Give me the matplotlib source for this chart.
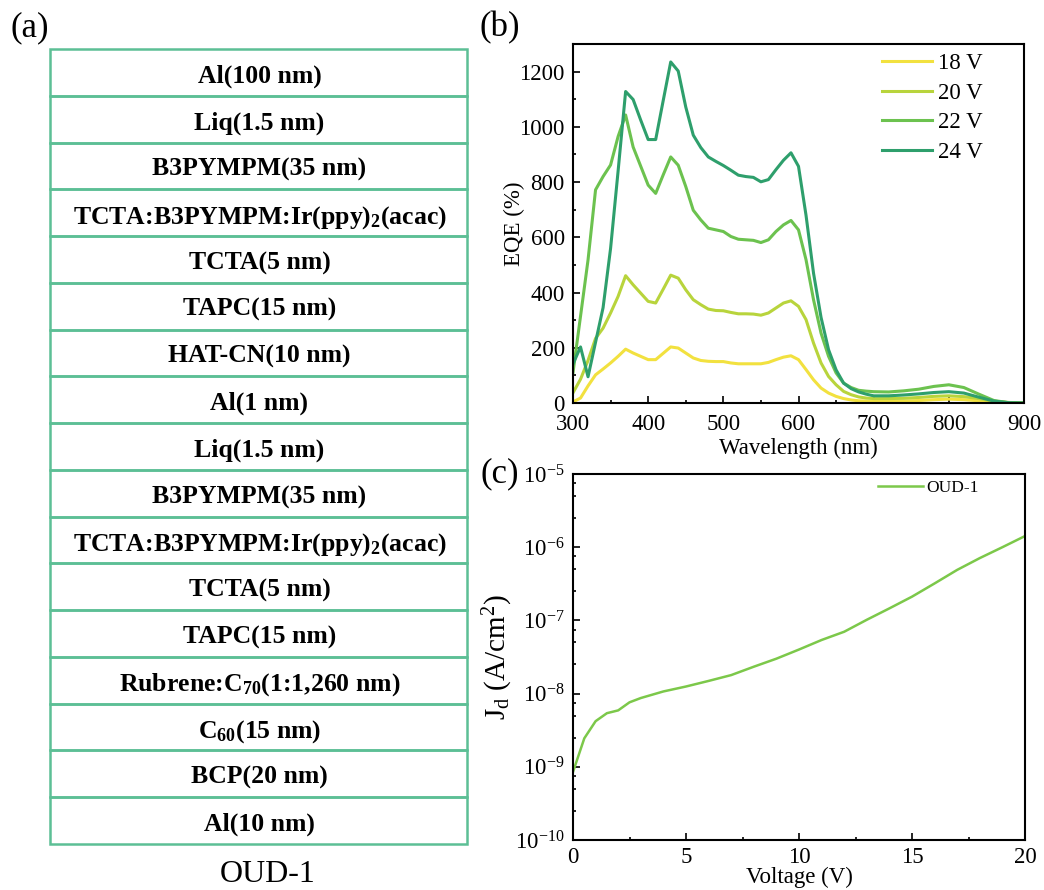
import numpy as np
import matplotlib
matplotlib.use("Agg")
import matplotlib.pyplot as plt
from matplotlib.patches import Rectangle
from matplotlib.ticker import MultipleLocator, FixedLocator, FuncFormatter

plt.rcParams['font.family'] = ['Liberation Serif', 'DejaVu Serif']
plt.rcParams['mathtext.fontset'] = 'custom'
plt.rcParams['mathtext.rm'] = 'Liberation Serif'
plt.rcParams['mathtext.it'] = 'Liberation Serif:italic'
plt.rcParams['mathtext.bf'] = 'Liberation Serif:bold'

# ---------------- data ----------------
layers = [
    "Al(100 nm)",
    "Liq(1.5 nm)",
    "B3PYMPM(35 nm)",
    r"TCTA:B3PYMPM:Ir(ppy)$\mathregular{_2}$(acac)",
    "TCTA(5 nm)",
    "TAPC(15 nm)",
    "HAT-CN(10 nm)",
    "Al(1 nm)",
    "Liq(1.5 nm)",
    "B3PYMPM(35 nm)",
    r"TCTA:B3PYMPM:Ir(ppy)$\mathregular{_2}$(acac)",
    "TCTA(5 nm)",
    "TAPC(15 nm)",
    r"Rubrene:C$\mathregular{_{70}}$(1:1,260 nm)",
    r"C$\mathregular{_{60}}$(15 nm)",
    "BCP(20 nm)",
    "Al(10 nm)",
]
device_name = "OUD-1"

wavelength = [300, 310, 320, 330, 340, 350, 360, 370, 380, 390,
              400, 410, 420, 430, 440, 450, 460, 470, 480, 490,
              500, 510, 520, 530, 540, 550, 560, 570, 580, 590,
              600, 610, 620, 630, 640, 650, 660, 670, 680, 690,
              700, 720, 740, 760, 780, 800, 820, 840, 860, 880, 900]

eqe_18V = [4, 18, 62, 102, 123, 145, 169, 195, 181, 169,
           157, 157, 180, 203, 199, 181, 163, 154, 151, 150,
           150, 145, 142, 142, 142, 142, 147, 157, 166, 171,
           157, 121, 84, 54, 36, 24, 16, 11, 8, 7,
           6, 6, 7, 9, 12, 14, 12, 8, 4, 1, 0]
eqe_20V = [37, 86, 154, 234, 271, 326, 386, 461, 428, 398,
           368, 362, 412, 463, 452, 410, 374, 356, 340, 335,
           334, 328, 323, 323, 322, 318, 326, 344, 362, 370,
           350, 302, 217, 145, 96, 66, 42, 30, 22, 18,
           16, 16, 17, 20, 24, 26, 23, 16, 6, 2, 0]
eqe_22V = [110, 314, 518, 772, 820, 862, 965, 1043, 927, 858,
           789, 759, 826, 891, 861, 784, 698, 663, 633, 627,
           621, 603, 593, 591, 589, 581, 591, 621, 645, 661,
           627, 519, 374, 253, 169, 109, 72, 56, 46, 43,
           41, 40, 44, 50, 60, 66, 56, 32, 9, 1, 0]
eqe_24V = [141, 203, 95, 220, 345, 560, 840, 1128, 1099, 1025,
           954, 954, 1095, 1235, 1202, 1072, 970, 925, 891, 875,
           860, 843, 825, 820, 817, 801, 809, 845, 879, 906,
           857, 680, 470, 310, 193, 120, 72, 52, 40, 32,
           26, 26, 29, 33, 38, 41, 36, 21, 7, 1, 0]
eqe_labels = ["18 V", "20 V", "22 V", "24 V"]
eqe_colors = ["#f2e13f", "#b8d43c", "#6cc24f", "#2e9f6c"]

voltage = [0, 0.5, 1.0, 1.5, 2.0, 2.5, 3, 4, 5, 6, 7, 8, 9, 10,
           11, 12, 13, 14, 15, 16, 17, 18, 19, 20]
jd = [8.5e-10, 2.45e-9, 4.2e-9, 5.4e-9, 5.9e-9, 7.6e-9, 8.7e-9, 1.07e-8,
      1.25e-8, 1.49e-8, 1.79e-8, 2.33e-8, 3.0e-8, 4.0e-8, 5.4e-8, 7.0e-8,
      1.02e-7, 1.46e-7, 2.11e-7, 3.2e-7, 4.9e-7, 7.1e-7, 1.0e-6, 1.42e-6]

# ---------------- figure ----------------
W, H = 1044, 890
fig = plt.figure(figsize=(W / 100, H / 100), dpi=100)

# panel (a): device stack drawn in pixel coordinates
axa = fig.add_axes([0, 0, 1, 1])
axa.set_xlim(0, W)
axa.set_ylim(H, 0)
axa.axis('off')
box_l, box_r, box_t, box_b = 50, 467, 49, 844
row_h = (box_b - box_t) / len(layers)
edge = "#5cbf95"
for i, lab in enumerate(layers):
    y0 = box_t + i * row_h
    axa.add_patch(Rectangle((box_l, y0), box_r - box_l, row_h, fill=False,
                            edgecolor=edge, lw=1.8))
    axa.text((box_l + box_r) / 2 + 1, y0 + row_h / 2 + 1, lab, ha='center',
             va='center_baseline', fontsize=18.5, fontweight='bold')
axa.text(268, 875, device_name, ha='center', va='center', fontsize=23)
axa.text(30, 28, "(a)", ha='center', va='center', fontsize=25)
axa.text(500, 28, "(b)", ha='center', va='center', fontsize=25)
axa.text(500, 474, "(c)", ha='center', va='center', fontsize=25)

def style(ax, xpad):
    for s in ax.spines.values():
        s.set_linewidth(1.5)
    ax.tick_params(which='both', direction='in', top=False, right=False,
                   labelsize=16.5, width=1.2)
    ax.tick_params(which='major', length=5, pad=6)
    ax.tick_params(which='minor', length=2.5)
    ax.tick_params(axis='x', which='major', pad=xpad)

# panel (b)
axb = fig.add_axes([573 / W, 1 - 403 / H, 451 / W, 359 / H])
for y, lab, c in zip([eqe_18V, eqe_20V, eqe_22V, eqe_24V], eqe_labels, eqe_colors):
    axb.plot(wavelength, y, color=c, lw=2.2, label=lab)
axb.set_xlim(300, 900)
axb.set_ylim(0, 1300)
axb.xaxis.set_major_locator(MultipleLocator(100))
axb.xaxis.set_minor_locator(MultipleLocator(50))
axb.yaxis.set_major_locator(MultipleLocator(200))
axb.yaxis.set_minor_locator(MultipleLocator(100))
style(axb, 8)
axb.set_xlabel("Wavelength (nm)", fontsize=16.5, labelpad=2)
axb.set_ylabel("EQE (%)", fontsize=16.5, labelpad=-4)
axb.legend(loc='upper left', bbox_to_anchor=(0.685, 0.975), frameon=False,
           fontsize=16.5, handlelength=2.2, handletextpad=0.25, labelspacing=0.37,
           borderpad=0, borderaxespad=0)

# panel (c)
axc = fig.add_axes([573 / W, 1 - 840 / H, 452 / W, 366 / H])
axc.plot(voltage, jd, color="#7cc84a", lw=1.8, label=device_name)
axc.set_yscale('log')
axc.set_xlim(0, 20)
axc.set_ylim(1e-10, 1e-5)
axc.xaxis.set_major_locator(MultipleLocator(5))
axc.xaxis.set_minor_locator(MultipleLocator(2.5))
decades = range(-10, -5)
axc.yaxis.set_major_locator(FixedLocator([10.0 ** d for d in range(-10, -4)]))
axc.yaxis.set_minor_locator(FixedLocator([m * 10.0 ** d for d in decades
                                          for m in (2.5, 5, 7.5)]))
axc.yaxis.set_major_formatter(FuncFormatter(
    lambda v, p: r"$\mathregular{10^{%d}}$" % int(round(np.log10(v)))))
style(axc, 5)
axc.set_xlabel("Voltage (V)", fontsize=16.5, labelpad=-1)
axc.set_ylabel(r"J$_\mathregular{d}$ (A/cm$^\mathregular{2}$)", fontsize=21, labelpad=0)
axc.legend(loc='upper left', bbox_to_anchor=(0.675, 0.985), frameon=False,
           fontsize=12.5, handlelength=2.6, handletextpad=0.15,
           borderpad=0, borderaxespad=0)

fig.savefig("out.png", dpi=100)
